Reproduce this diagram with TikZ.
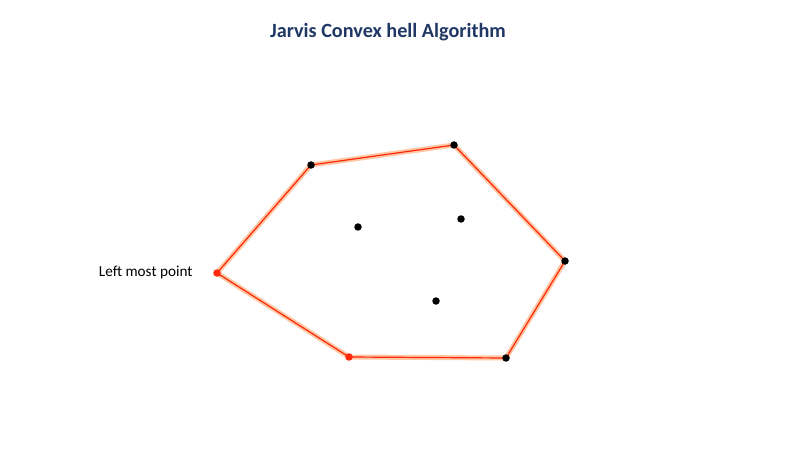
\documentclass[tikz,border=0pt]{standalone}
\usepackage{fontspec}
\setmainfont{Carlito}
\definecolor{titleblue}{RGB}{31,56,100}
\definecolor{hullred}{RGB}{255,40,10}
\definecolor{glow}{RGB}{255,200,165}
\begin{document}
\begin{tikzpicture}[x=1pt,y=-1pt,
  pt/.style={circle,fill=black,inner sep=0pt,minimum width=7.5pt,minimum height=7pt},
  rpt/.style={pt,fill=hullred},
  glowline/.style={draw=glow,line width=5pt,line join=round},
  coreline/.style={draw=hullred,line width=1.2pt,line join=round}]
\useasboundingbox[fill=white] (0,0) rectangle (811,457);
\node[font=\bfseries\fontsize{20.2}{24}\selectfont,text=titleblue] (title) at (388,32) {Jarvis Convex hell Algorithm};
\coordinate (p1) at (217,273);
\coordinate (p2) at (311,165);
\coordinate (p3) at (454,145);
\coordinate (p4) at (565,261);
\coordinate (p5) at (506,358);
\coordinate (p6) at (349,357);
\draw[glowline] (p1) -- (p2) -- (p3) -- (p4) -- (p5) -- (p6) -- cycle;
\draw[coreline] (p1) -- (p2) -- (p3) -- (p4) -- (p5) -- (p6) -- cycle;
\node[rpt] (n1) at (p1) {};
\node[pt] (n2) at (p2) {};
\node[pt] (n3) at (p3) {};
\node[pt] (n4) at (p4) {};
\node[pt] (n5) at (p5) {};
\node[rpt] (n6) at (p6) {};
\node[pt] (i1) at (358,227) {};
\node[pt] (i2) at (461,219) {};
\node[pt] (i3) at (436,301) {};
\node[font=\fontsize{15.2}{18}\selectfont,anchor=east] (lbl) at (196,272) {Left most point};
\end{tikzpicture}
\end{document}
